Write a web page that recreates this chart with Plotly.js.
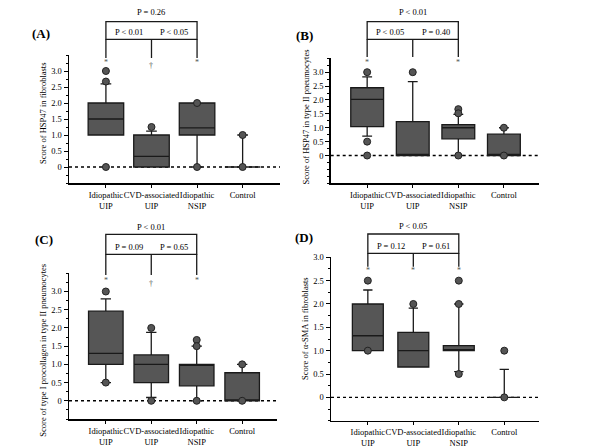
<!DOCTYPE html>
<html>
<head>
<meta charset="utf-8">
<script src="https://cdn.plot.ly/plotly-3.0.1.min.js"></script>
<style>html,body{margin:0;padding:0;background:#fff}#chart{width:600px;height:448px}</style>
</head>
<body>
<div id="chart"></div>
<script>
// ---------- data ----------
var categories = ['Idiopathic<br>UIP', 'CVD-associated<br>UIP', 'Idiopathic<br>NSIP', 'Control'];
var yTickVals = [0, 0.5, 1.0, 1.5, 2.0, 2.5, 3.0];
var yTickText = ['0', '0.5', '1.0', '1.5', '2.0', '2.5', '3.0'];

// (A) HSP47 in fibroblasts
var aQ1 = [1.0, 0, 1.0, 0];
var aMedian = [1.5, 0.33, 1.22, 0];
var aQ3 = [2.0, 1.0, 2.0, 0];
var aLower = [1.0, 0, 0, 0];
var aUpper = [2.6, 1.12, 2.0, 1.0];
var aOutGroup = [0, 0, 0, 1, 2, 2, 3, 3];
var aOutValue = [3.0, 2.67, 0, 1.25, 2.0, 0, 1.0, 0];
var aPvals = ['P = 0.26', 'P < 0.01', 'P < 0.05'];
var aMarks = ['*', '\u2020', '*'];

// (B) HSP47 in type II pneumocytes
var bQ1 = [1.04, 0, 0.6, 0];
var bMedian = [2.02, 0, 1.0, 0];
var bQ3 = [2.44, 1.22, 1.11, 0.77];
var bLower = [0.7, 0, 0, 0];
var bUpper = [2.83, 2.66, 1.48, 1.0];
var bOutGroup = [0, 0, 0, 1, 2, 2, 2, 3, 3];
var bOutValue = [3.0, 0.5, 0, 3.0, 1.67, 1.52, 0, 1.0, 0];
var bPvals = ['P < 0.01', 'P < 0.05', 'P = 0.40'];
var bMarks = ['*', '', '*'];

// (C) type I procollagen in type II pneumocytes
var cQ1 = [1.0, 0.5, 0.41, 0];
var cMedian = [1.3, 1.0, 1.0, 0];
var cQ3 = [2.46, 1.26, 1.0, 0.77];
var cLower = [0.5, 0.09, 0, 0];
var cUpper = [2.8, 1.88, 1.5, 1.0];
var cOutGroup = [0, 0, 1, 1, 2, 2, 2, 3, 3];
var cOutValue = [3.0, 0.5, 2.0, 0, 1.67, 1.5, 0, 1.0, 0];
var cPvals = ['P < 0.01', 'P = 0.09', 'P = 0.65'];
var cMarks = ['*', '\u2020', '*'];

// (D) alpha-SMA in fibroblasts
var dQ1 = [1.0, 0.65, 1.0, 0];
var dMedian = [1.32, 1.0, 1.0, 0];
var dQ3 = [2.0, 1.39, 1.11, 0];
var dLower = [1.0, 0.65, 0.55, 0];
var dUpper = [2.3, 1.91, 2.0, 0.6];
var dOutGroup = [0, 0, 1, 2, 2, 2, 3, 3];
var dOutValue = [2.5, 1.0, 2.0, 2.5, 2.0, 0.5, 1.0, 0];
var dPvals = ['P < 0.05', 'P = 0.12', 'P = 0.61'];
var dMarks = ['*', '*', '*'];

var yTitles = ['Score of HSP47 in fibroblasts',
               'Score of HSP47 in type II pneumocytes',
               'Score of type I procollagen in type II pneumocytes',
               'Score of \u03b1-SMA in fibroblasts'];
var panelLabels = ['(A)', '(B)', '(C)', '(D)'];

// ---------- styling / layout ----------
var W = 600, H = 448;
function px(x) { return x / W; }
function py(y) { return 1 - y / H; }
var FONT = '"Liberation Serif", "Times New Roman", serif';
var FS = 8.5;

var panels = [
  {q1: aQ1, med: aMedian, q3: aQ3, lo: aLower, hi: aUpper, og: aOutGroup, ov: aOutValue, pv: aPvals, mk: aMarks,
   dom: [69, 280, 55, 183], xr: [-0.81, 3.82], yr: [-0.5, 3.5], bw: 0.78,
   topY: 21.7, lowY: 39.3, endY: 58, topText: 11.7, lowText: 32, markY: [62.5, 65, 62.5],
   label: [41, 33.3], title: [43, 113]},
  {q1: bQ1, med: bMedian, q3: bQ3, lo: bLower, hi: bUpper, og: bOutGroup, ov: bOutValue, pv: bPvals, mk: bMarks,
   dom: [330.7, 539, 58.3, 183.3], xr: [-0.8, 3.77], yr: [-1.0, 3.5], bw: 0.72,
   topY: 21.7, lowY: 39.3, endY: 57, topText: 12.3, lowText: 32.3, markY: [62.5, 62.5, 62.5],
   label: [304, 35], title: [305, 117.5]},
  {q1: cQ1, med: cMedian, q3: cQ3, lo: cLower, hi: cUpper, og: cOutGroup, ov: cOutValue, pv: cPvals, mk: cMarks,
   dom: [69, 276.7, 273.3, 419], xr: [-0.81, 3.76], yr: [-0.5, 3.5], bw: 0.76,
   topY: 234.3, lowY: 254.3, endY: 275, topText: 226.7, lowText: 247.3, markY: [280.5, 283, 280.5],
   label: [44, 239], title: [43, 350.7]},
  {q1: dQ1, med: dMedian, q3: dQ3, lo: dLower, hi: dUpper, og: dOutGroup, ov: dOutValue, pv: dPvals, mk: dMarks,
   dom: [331, 539.3, 257.3, 420.7], xr: [-0.81, 3.77], yr: [-0.5, 3.0], bw: 0.68,
   topY: 234, lowY: 253.3, endY: 266.7, topText: 226.5, lowText: 245.7, markY: [270, 270, 270],
   label: [303.5, 237.3], title: [305, 329]}
];

var traces = [];
var layout = {
  width: W, height: H,
  margin: {l: 0, r: 0, t: 0, b: 0},
  paper_bgcolor: '#ffffff', plot_bgcolor: '#ffffff',
  showlegend: false,
  font: {family: FONT, size: FS, color: '#000'},
  shapes: [], annotations: []
};

var lineCol = '#1a1a1a';
panels.forEach(function (p, i) {
  var n = i === 0 ? '' : String(i + 1);
  var xa = 'x' + n, ya = 'y' + n;

  traces.push({
    type: 'box', xaxis: xa, yaxis: ya,
    x: [0, 1, 2, 3],
    q1: p.q1, median: p.med, q3: p.q3, lowerfence: p.lo, upperfence: p.hi,
    boxpoints: false, width: p.bw, whiskerwidth: 0.3,
    fillcolor: '#565656', line: {color: lineCol, width: 1.3},
    hoverinfo: 'skip'
  });
  traces.push({
    type: 'scatter', mode: 'markers', xaxis: xa, yaxis: ya,
    x: p.og, y: p.ov, cliponaxis: false,
    marker: {size: 7, color: '#555555', line: {color: '#222', width: 1}},
    hoverinfo: 'skip'
  });

  layout['xaxis' + n] = {
    domain: [px(p.dom[0]), px(p.dom[1])], anchor: ya,
    range: p.xr, tickmode: 'array', tickvals: [0, 1, 2, 3], ticktext: categories,
    tickangle: 0,
    ticks: 'outside', ticklen: 3, tickwidth: 1, tickcolor: '#000',
    showline: true, linecolor: '#000', linewidth: 1.5,
    showgrid: false, zeroline: false, fixedrange: true,
    tickfont: {family: FONT, size: FS, color: '#000'}
  };
  layout['yaxis' + n] = {
    domain: [py(p.dom[3]), py(p.dom[2])], anchor: xa,
    range: p.yr, tickmode: 'array', tickvals: yTickVals, ticktext: yTickText,
    ticks: 'outside', ticklen: 4, tickwidth: 1, tickcolor: '#000',
    minor: {tickmode: 'linear', tick0: 0, dtick: 0.25, ticks: 'outside', ticklen: 2, tickwidth: 1, tickcolor: '#000'},
    showline: true, linecolor: '#000', linewidth: 1.5,
    showgrid: false, zeroline: false, fixedrange: true,
    tickfont: {family: FONT, size: FS, color: '#000'}
  };

  // dotted zero reference line
  layout.shapes.push({type: 'line', xref: xa + ' domain', x0: 0, x1: 1, yref: ya, y0: 0, y1: 0,
    line: {color: '#000', width: 1.4, dash: 'dot'}, layer: 'below'});

  // comparison brackets
  var bl = {color: '#1a1a1a', width: 1.3};
  layout.shapes.push({type: 'rect', xref: xa, yref: 'paper', x0: 0, x1: 2,
    y0: py(p.lowY), y1: py(p.topY), line: bl, fillcolor: 'rgba(0,0,0,0)'});
  [0, 1, 2].forEach(function (k) {
    layout.shapes.push({type: 'line', xref: xa, yref: 'paper', x0: k, x1: k,
      y0: py(p.lowY), y1: py(p.endY), line: bl});
    if (p.mk[k]) {
      layout.annotations.push({xref: xa, yref: 'paper', x: k, y: py(p.markY[k]),
        text: p.mk[k], showarrow: false, xanchor: 'center', yanchor: 'middle',
        font: {family: FONT, size: 8, color: '#555'}});
    }
  });
  var pxs = [1, 0.5, 1.5], pys = [p.topText, p.lowText, p.lowText];
  for (var k = 0; k < 3; k++) {
    layout.annotations.push({xref: xa, yref: 'paper', x: pxs[k], y: py(pys[k]),
      text: p.pv[k], showarrow: false, xanchor: 'center', yanchor: 'middle',
      font: {family: FONT, size: FS, color: '#000'}});
  }

  // panel label
  layout.annotations.push({xref: 'paper', yref: 'paper', x: px(p.label[0]), y: py(p.label[1]),
    text: '<b>' + panelLabels[i] + '</b>', showarrow: false, xanchor: 'center', yanchor: 'middle',
    font: {family: FONT, size: 13, color: '#000'}});
  // y axis title
  layout.annotations.push({xref: 'paper', yref: 'paper', x: px(p.title[0]), y: py(p.title[1]),
    text: yTitles[i], textangle: -90, showarrow: false, xanchor: 'center', yanchor: 'middle',
    font: {family: FONT, size: FS, color: '#000'}});
});

Plotly.newPlot('chart', traces, layout, {staticPlot: true, displayModeBar: false});
</script>
</body>
</html>
